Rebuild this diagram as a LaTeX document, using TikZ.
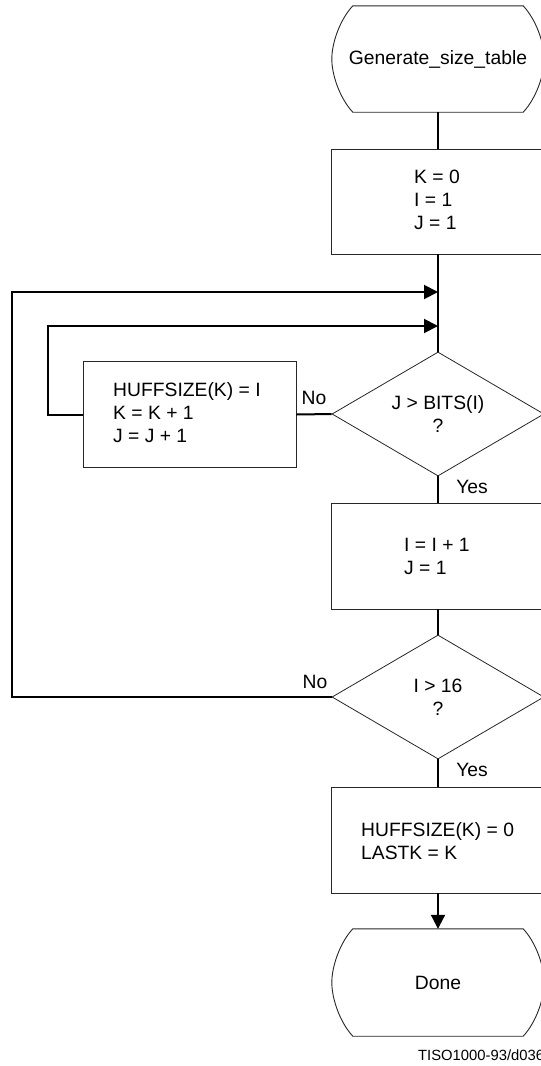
\documentclass[tikz,border=0pt]{standalone}
\usepackage{fontspec}
\setmainfont{Liberation Sans}
\usetikzlibrary{arrows.meta,shapes.geometric}
\newcommand{\termpath}[1]{%
  \draw[line width=0.9pt,black!85]
    ([xshift=21pt]#1.north west) -- ([xshift=-21pt]#1.north east)
    .. controls ([xshift=-8pt,yshift=-14pt]#1.north east) and ([yshift=16pt]#1.east) .. (#1.east)
    .. controls ([yshift=-16pt]#1.east) and ([xshift=-8pt,yshift=14pt]#1.south east) .. ([xshift=-21pt]#1.south east)
    -- ([xshift=21pt]#1.south west)
    .. controls ([xshift=8pt,yshift=14pt]#1.south west) and ([yshift=-16pt]#1.west) .. (#1.west)
    .. controls ([yshift=16pt]#1.west) and ([xshift=8pt,yshift=-14pt]#1.north west) .. cycle;}
\begin{document}
\begin{tikzpicture}[x=1pt,y=-1pt,
  every node/.style={font=\fontsize{19.3}{23}\selectfont},
  terminal/.style={rectangle,minimum width=212pt,minimum height=106pt,inner sep=0pt},
  procbox/.style={rectangle,draw=black!85,line width=0.9pt,minimum width=213pt,minimum height=106pt,inner sep=0pt},
  decision/.style={diamond,draw=black!85,line width=0.8pt,minimum width=212pt,minimum height=124pt,aspect=1.7,inner sep=0pt,align=center},
  boxtext/.style={anchor=west,align=left,inner sep=0pt},
  conn/.style={line width=2pt,black},
  tip/.style={-{Triangle[length=14pt,width=14pt]}},
  lbl/.style={inner sep=0pt}]
\useasboundingbox (0,0) rectangle (541,1066);

% nodes
\node[terminal] (start) at (438,59) {Generate\_size\_table};
\termpath{start}

\node[procbox,minimum width=214pt,minimum height=105pt] (b1) at (438,201.5) {};
\node[boxtext] (b1t) at (414,200) {K = 0\\I = 1\\J = 1};

\node[decision] (d1) at (438,414) {J > BITS(I)\\?};

\node[procbox] (h) at (189.5,414.5) {};
\node[boxtext] (ht) at (113,413) {HUFFSIZE(K) = I\\K = K + 1\\J = J + 1};

\node[procbox] (b2) at (438,556) {};
\node[boxtext] (b2t) at (404,556.5) {I = I + 1\\J = 1};

\node[decision] (d2) at (438,697) {I > 16\\?};

\node[procbox] (b3) at (438,840) {};
\node[boxtext] (b3t) at (361,841) {HUFFSIZE(K) = 0\\LASTK = K};

\node[terminal,minimum height=107pt] (done) at (438,982.5) {Done};
\termpath{done}

% helper coordinates
\coordinate (m1) at (438,292);
\coordinate (m2) at (438,326);
\coordinate (outerx) at (12,0);
\coordinate (innerx) at (48,0);

% connectors
\draw[conn] (start.south) -- (b1.north);
\draw[conn] (b1.south) -- (d1.north);
\draw[conn] (d1.west) -- (h.east);
\draw[conn,tip] (h.west) -- (h.west -| innerx) |- (m2);
\draw[conn] (d1.south) -- (b2.north);
\draw[conn] (b2.south) -- (d2.north);
\draw[conn,tip] (d2.west) -- (d2.west -| outerx) |- (m1);
\draw[conn] (d2.south) -- (b3.north);
\draw[conn,tip] (b3.south) -- (done.north);

% labels
\node[lbl] (no1) at (314,398) {No};
\node[lbl] (yes1) at (472,487) {Yes};
\node[lbl] (no2) at (315,682) {No};
\node[lbl] (yes2) at (472,770) {Yes};
\node[lbl,anchor=west,font=\fontsize{14.8}{16}\selectfont] (foot) at (418,1055) {TISO1000-93/d036};
\end{tikzpicture}
\end{document}
